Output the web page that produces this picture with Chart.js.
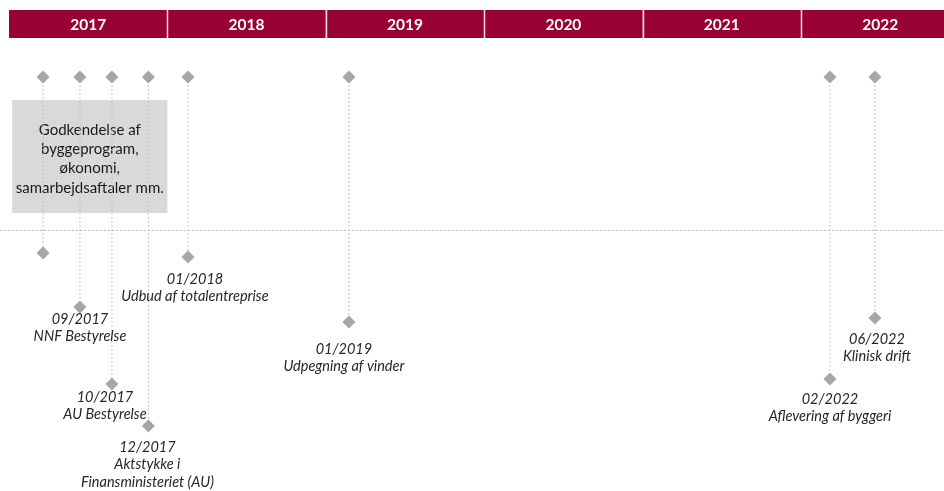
<!DOCTYPE html>
<html>
<head>
<meta charset="utf-8">
<script src="https://cdn.jsdelivr.net/npm/chart.js@4.4.0/dist/chart.umd.min.js"></script>
<style>
  html, body { margin: 0; padding: 0; background: #fff; }
  #wrap { width: 944px; height: 491px; }
</style>
</head>
<body>
<div id="wrap"><canvas id="myChart"></canvas></div>
<script>
// data
var years = ['2017', '2018', '2019', '2020', '2021', '2022'];
var eventX = [2017.215, 2017.448, 2017.650, 2017.880, 2018.130, 2019.146, 2022.183, 2022.467];
var topLevel = 77;
var bottomLevel = [253, 307, 384, 426, 257, 322, 379, 318];
var eventDates = ['', '09/2017', '10/2017', '12/2017', '01/2018', '01/2019', '02/2022', '06/2022'];
var eventNames = [[], ['NNF Bestyrelse'], ['AU Bestyrelse'], ['Aktstykke i', 'Finansministeriet (AU)'],
    ['Udbud af totalentreprise'], ['Udpegning af vinder'], ['Aflevering af byggeri'], ['Klinisk drift']];
var boxText = ['Godkendelse af', 'byggeprogram,', 'økonomi,', 'samarbejdsaftaler mm.'];

// label placement tweaks (px)
var labelDx = [0, 0, -7, -1, 7, -5, 0, 2];
var labelDy = [0, 12, 13, 21, 22, 27, 20, 21];

var datasets = [];
for (var i = 0; i < eventX.length; i++) {
    datasets.push({
        data: [{x: eventX[i], y: topLevel}, {x: eventX[i], y: bottomLevel[i]}],
        borderColor: '#c4c4c4',
        borderWidth: 1,
        borderDash: [2, 2],
        pointStyle: 'rectRot',
        pointRadius: 6.5,
        pointHoverRadius: 6.5,
        pointBackgroundColor: '#a6a6a6',
        pointBorderWidth: 0,
        fill: false
    });
}

const decor = {
    id: 'decor',
    beforeDatasetsDraw: function(chart) {
        var ctx = chart.ctx;
        var xs = chart.scales.x, ys = chart.scales.y;
        ctx.save();
        // year header
        var hTop = ys.getPixelForValue(10), hBot = ys.getPixelForValue(38);
        for (var i = 0; i < years.length; i++) {
            var x0 = xs.getPixelForValue(2017 + i);
            var x1 = xs.getPixelForValue(2018 + i);
            ctx.fillStyle = '#990033';
            ctx.fillRect(x0, hTop, x1 - x0, hBot - hTop);
            ctx.fillStyle = '#ffffff';
            ctx.font = 'bold 15.5px Lato';
            ctx.textAlign = 'center';
            ctx.textBaseline = 'middle';
            ctx.fillText(years[i], (x0 + x1) / 2, (hTop + hBot) / 2 + 1);
        }
        ctx.strokeStyle = '#f2dce2';
        ctx.lineWidth = 1.5;
        for (var i = 1; i < years.length; i++) {
            var xb = Math.round(xs.getPixelForValue(2017 + i)) + 0.5;
            ctx.beginPath();
            ctx.moveTo(xb, hTop);
            ctx.lineTo(xb, hBot);
            ctx.stroke();
        }
        // grey box
        var bx0 = xs.getPixelForValue(2017.02), bx1 = xs.getPixelForValue(2018.0);
        var by0 = ys.getPixelForValue(100), by1 = ys.getPixelForValue(213);
        ctx.fillStyle = '#d9d9d9';
        ctx.fillRect(bx0, by0, bx1 - bx0, by1 - by0);
        ctx.fillStyle = '#1a1a1a';
        ctx.font = '15px Lato';
        var cx = (bx0 + bx1) / 2;
        for (var j = 0; j < boxText.length; j++) {
            ctx.fillText(boxText[j], cx, ys.getPixelForValue(130 + j * 19.3));
        }
        // dotted horizontal divider
        var yl = Math.round(ys.getPixelForValue(230)) + 0.5;
        ctx.strokeStyle = '#bdbdbd';
        ctx.lineWidth = 1;
        ctx.setLineDash([2, 2]);
        ctx.beginPath();
        ctx.moveTo(0, yl);
        ctx.lineTo(chart.width, yl);
        ctx.stroke();
        ctx.restore();
    },
    afterDatasetsDraw: function(chart) {
        var ctx = chart.ctx;
        var xs = chart.scales.x, ys = chart.scales.y;
        ctx.save();
        ctx.fillStyle = '#262626';
        ctx.font = 'italic 14.5px Lato';
        ctx.textAlign = 'center';
        ctx.textBaseline = 'middle';
        for (var i = 0; i < eventX.length; i++) {
            if (!eventDates[i]) continue;
            var px = xs.getPixelForValue(eventX[i]) + labelDx[i];
            var py = ys.getPixelForValue(bottomLevel[i]) + labelDy[i];
            var lines = [eventDates[i]].concat(eventNames[i]);
            for (var k = 0; k < lines.length; k++) {
                ctx.fillText(lines[k], px, py + k * 17.5);
            }
        }
        ctx.restore();
    }
};

const config = {
    type: 'line',
    data: { datasets: datasets },
    options: {
        responsive: true,
        maintainAspectRatio: false,
        animation: false,
        layout: { autoPadding: false, padding: { left: 9, right: 0, top: 0, bottom: 0 } },
        plugins: { legend: { display: false }, tooltip: { enabled: false } },
        scales: {
            x: { type: 'linear', min: 2017, max: 2022.903, display: false },
            y: { type: 'linear', min: 0, max: 491, reverse: true, display: false }
        }
    },
    plugins: [decor]
};
var myChart = new Chart(document.getElementById('myChart'), config);
</script>
</body>
</html>
